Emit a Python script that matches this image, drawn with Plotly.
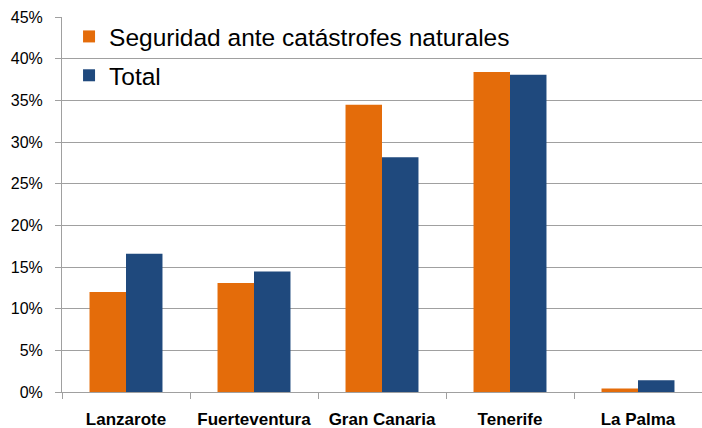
import plotly.graph_objects as go

categories = ["Lanzarote", "Fuerteventura", "Gran Canaria", "Tenerife", "La Palma"]
seguridad = [12.0, 13.07, 34.46, 38.39, 0.42]
total = [16.6, 14.47, 28.17, 38.06, 1.4]
series_names = ["Seguridad ante catástrofes naturales", "Total"]
y_ticks = [0, 5, 10, 15, 20, 25, 30, 35, 40, 45]
y_ticklabels = [f"{v}%" for v in y_ticks]

fig = go.Figure()
fig.add_trace(go.Bar(x=categories, y=seguridad, name=series_names[0],
                     marker=dict(color="#E46C0A", line=dict(width=0)),
                     legendgroup="a"))
fig.add_trace(go.Bar(x=categories, y=total, name=series_names[1],
                     marker=dict(color="#1F497D", line=dict(width=0)),
                     legendgroup="b"))

fig.update_layout(
    width=702, height=428,
    margin=dict(l=62, r=0, t=17, b=36),
    paper_bgcolor="white", plot_bgcolor="white",
    barmode="group", bargap=0.43, bargroupgap=0,
    font=dict(family="Liberation Sans", color="black"),
    showlegend=True,
    legend=dict(x=0.011, y=1.008, xanchor="left", yanchor="top",
                bgcolor="rgba(0,0,0,0)", font=dict(size=24.5),
                tracegroupgap=4, traceorder="grouped", itemwidth=30,
                itemclick=False),
)
fig.update_yaxes(range=[0, 45], tickvals=y_ticks, ticktext=y_ticklabels,
                 showgrid=True, gridcolor="#A0A0A0", gridwidth=1,
                 showline=True, linecolor="#A0A0A0", linewidth=1,
                 ticks="outside", ticklen=6, tickcolor="#A0A0A0",
                 tickfont=dict(size=16), zeroline=False, fixedrange=True,
                 automargin=False, ticklabelstandoff=9)
fig.update_xaxes(type="category", tickson="boundaries", ticks="outside",
                 ticklen=6, tickcolor="#A0A0A0",
                 showline=True, linecolor="#A0A0A0", linewidth=1,
                 tickfont=dict(size=17, weight="bold"), fixedrange=True,
                 automargin=False, ticklabelstandoff=12)

fig.write_html("out.html", config={"displayModeBar": False},
               post_script="document.body.style.margin='0';document.body.style.overflow='hidden';")
